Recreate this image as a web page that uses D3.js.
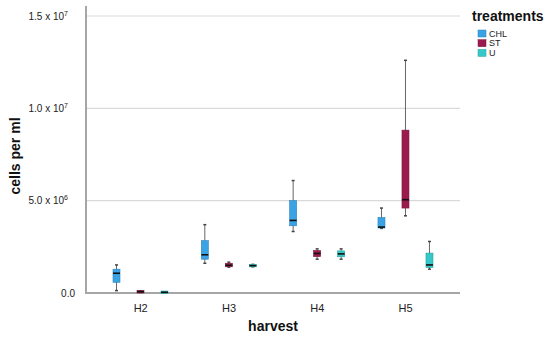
<!DOCTYPE html>
<html><head><meta charset="utf-8">
<script src="https://cdn.jsdelivr.net/npm/d3@7"></script>
<style>body{margin:0;background:#fff}svg{display:block;font-family:"Liberation Sans",Arial,sans-serif}</style>
</head><body>
<svg id="c" width="550" height="337"></svg>
<script>
const categories = ["H2","H3","H4","H5"];
const treatments = ["CHL","ST","U"];
// [whisker low, Q1, median, Q3, whisker high]
const CHL = [[0.13e6,0.58e6,1.07e6,1.29e6,1.52e6],[1.61e6,1.83e6,2.07e6,2.84e6,3.70e6],[3.33e6,3.64e6,3.93e6,5.0e6,6.09e6],[3.5e6,3.52e6,3.57e6,4.09e6,4.6e6]];
const ST  = [[0.03e6,0.05e6,0.07e6,0.09e6,0.11e6],[1.40e6,1.42e6,1.50e6,1.61e6,1.67e6],[1.83e6,1.97e6,2.14e6,2.30e6,2.39e6],[4.18e6,4.6e6,5.05e6,8.82e6,12.6e6]];
const U   = [[0.02e6,0.03e6,0.04e6,0.05e6,0.06e6],[1.42e6,1.45e6,1.48e6,1.52e6,1.55e6],[1.83e6,1.96e6,2.12e6,2.28e6,2.39e6],[1.29e6,1.38e6,1.52e6,2.16e6,2.79e6]];
const yTickValues = [0, 5e6, 1e7, 1.5e7];
const yTickMant = ["0.0","5.0","1.0","1.5"];
const yTickExp = [null,"6","7","7"];
const colors = {CHL:"#3aa3e6", ST:"#9b1b4e", U:"#36c8c8"};
const seriesData = {CHL, ST, U};

const svg = d3.select("#c");
const x = d3.scaleBand().domain(categories).range([96.5, 449.8]).padding(0);
const xs = d3.scaleBand().domain(treatments).range([8, 80]);
const y = d3.scaleLinear().domain([0, 1.5e7]).range([293, 16]);
const left = 86, right = 460;

// gridlines
svg.append("g").selectAll("line").data(yTickValues.slice(1)).join("line")
  .attr("x1", left).attr("x2", right).attr("y1", d=>y(d)).attr("y2", d=>y(d))
  .attr("stroke","#d9d9d9").attr("stroke-width",1.2);

// axes lines
svg.append("line").attr("x1",left).attr("x2",left).attr("y1",6).attr("y2",y(0)+1)
  .attr("stroke","#a6a6a6").attr("stroke-width",2);
svg.append("line").attr("x1",left-1).attr("x2",right).attr("y1",y(0)).attr("y2",y(0))
  .attr("stroke","#a6a6a6").attr("stroke-width",2);

// y tick labels
const yt = svg.append("g").selectAll("text").data(yTickValues).join("text")
  .attr("x", d=> 0).attr("y", d=>y(d)).attr("dy","0.35em")
  .attr("font-size",10).attr("fill","#222").attr("text-anchor","end");
yt.each(function(d,i){
  const t = d3.select(this);
  if (yTickExp[i]) {
    t.attr("x", 68);
    t.append("tspan").text(yTickMant[i] + " x 10");
    t.append("tspan").attr("font-size",7).attr("dy","-0.55em").text(yTickExp[i]);
  } else {
    t.attr("x", 75);
    t.text(yTickMant[i]);
  }
});

// x tick labels
svg.append("g").selectAll("text").data(categories).join("text")
  .attr("x", d=>x(d)+x.bandwidth()/2).attr("y",312).attr("text-anchor","middle")
  .attr("font-size",11).attr("fill","#222").text(d=>d);

// axis titles
svg.append("text").attr("x",273).attr("y",331).attr("text-anchor","middle")
  .attr("font-size",14).attr("font-weight","bold").attr("fill","#111").text("harvest");
svg.append("text").attr("transform","translate(20,156) rotate(-90)").attr("text-anchor","middle")
  .attr("font-size",14).attr("font-weight","bold").attr("fill","#111").text("cells per ml");

// boxes
const bw = 7;
treatments.forEach(t=>{
  const g = svg.append("g");
  seriesData[t].forEach((v,i)=>{
    const cx = x(categories[i]) + xs(t) + xs.bandwidth()/2;
    const [lo,q1,med,q3,hi] = v;
    g.append("line").attr("x1",cx).attr("x2",cx).attr("y1",y(hi)).attr("y2",y(lo))
      .attr("stroke","#666").attr("stroke-width",1);
    [lo,hi].forEach(w=> g.append("line").attr("x1",cx-1.5).attr("x2",cx+1.5).attr("y1",y(w)).attr("y2",y(w))
      .attr("stroke","#444").attr("stroke-width",1.5));
    const h = Math.max(y(q1)-y(q3), 2.5);
    const top = (y(q1)+y(q3))/2 - h/2;
    g.append("rect").attr("x",cx-bw/2).attr("y",top).attr("width",bw).attr("height",h)
      .attr("fill",colors[t]).attr("stroke",d3.color(colors[t]).darker(0.6)).attr("stroke-width",0.6);
    g.append("line").attr("x1",cx-bw/2).attr("x2",cx+bw/2).attr("y1",y(med)).attr("y2",y(med))
      .attr("stroke","#111").attr("stroke-width",1.6);
  });
});

// legend
svg.append("text").attr("x",472).attr("y",21).attr("font-size",14).attr("font-weight","bold")
  .attr("fill","#111").text("treatments");
const lg = svg.append("g").selectAll("g").data(treatments).join("g")
  .attr("transform",(d,i)=>`translate(478,${30+i*9.7})`);
lg.append("rect").attr("width",8).attr("height",7).attr("fill",d=>colors[d])
  .attr("stroke",d=>d3.color(colors[d]).darker(0.6)).attr("stroke-width",0.5);
lg.append("text").attr("x",11).attr("y",6.5).attr("font-size",9).attr("fill","#222").text(d=>d);
</script>
</body></html>
